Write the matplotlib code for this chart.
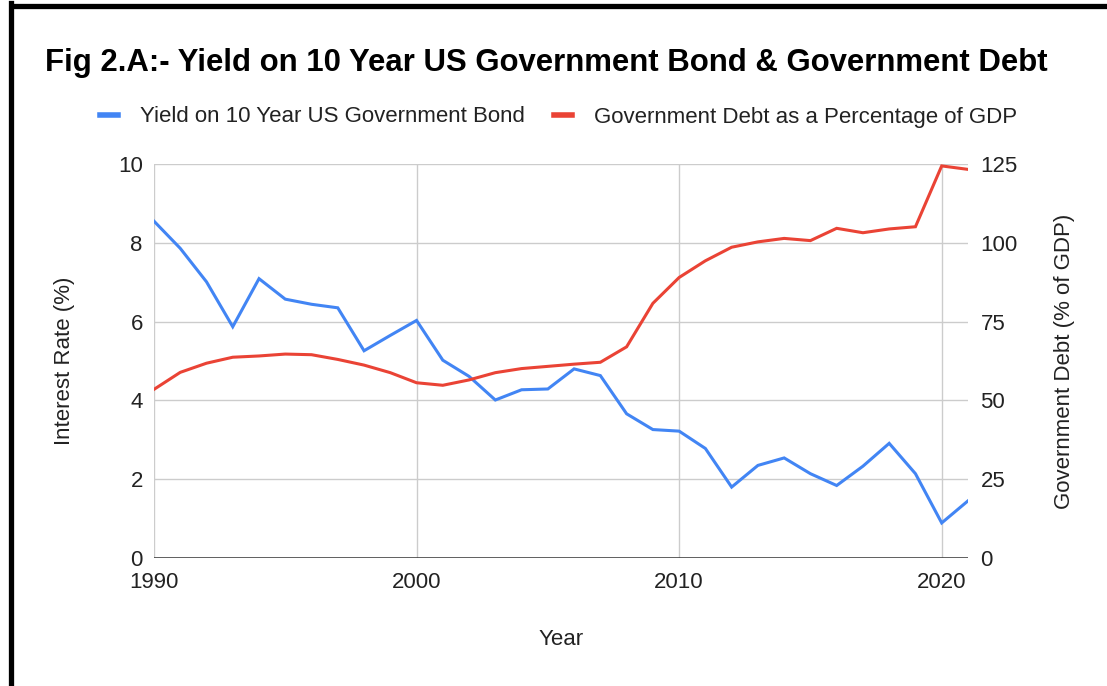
import matplotlib.pyplot as plt
from matplotlib.lines import Line2D

plt.rcParams['font.family'] = ['Liberation Sans', 'DejaVu Sans']

years = list(range(1990, 2022))

# 10 year treasury yield (%)
bond_yield = [8.55, 7.86, 7.01, 5.87, 7.09, 6.57, 6.44, 6.35, 5.26, 5.65,
              6.03, 5.02, 4.61, 4.01, 4.27, 4.29, 4.80, 4.63, 3.66, 3.26,
              3.22, 2.78, 1.80, 2.35, 2.54, 2.14, 1.84, 2.33, 2.91, 2.14,
              0.89, 1.45]

# federal debt as % of GDP
debt_gdp = [53.5, 58.9, 61.8, 63.7, 64.1, 64.7, 64.5, 63.0, 61.2, 58.8,
            55.6, 54.8, 56.5, 58.8, 60.1, 60.8, 61.5, 62.1, 67.0, 80.8,
            89.0, 94.3, 98.6, 100.3, 101.4, 100.7, 104.6, 103.2, 104.4, 105.1,
            124.4, 123.3]

blue = '#4285F4'
red = '#EA4335'
grid_col = '#cccccc'
txt = '#222222'

fig = plt.figure(figsize=(11.07, 6.86), dpi=100)
ax = fig.add_axes([0.1391, 0.1866, 0.7353, 0.5743])
ax2 = ax.twinx()

ax.plot(years, bond_yield, color=blue, lw=2.2, solid_joinstyle='miter', zorder=3)
ax2.plot(years, debt_gdp, color=red, lw=2.2, solid_joinstyle='miter', zorder=3)

ax.set_xlim(1990, 2021)
ax.set_ylim(0, 10)
ax2.set_ylim(0, 125)
ax.set_xticks([1990, 2000, 2010, 2020])
ax.set_yticks([0, 2, 4, 6, 8, 10])
ax2.set_yticks([0, 25, 50, 75, 100, 125])

ax.grid(True, color=grid_col, lw=1)
ax.set_axisbelow(True)
for a in (ax, ax2):
    for s in a.spines.values():
        s.set_visible(False)
    a.tick_params(length=0, labelsize=16, colors=txt)
ax.tick_params(axis='y', pad=8)
ax.tick_params(axis='x', pad=10)
ax2.tick_params(axis='y', pad=9)
ax.axhline(0, color='#333333', lw=1.8, zorder=4)

ax.set_xlabel('Year', fontsize=16, color=txt, labelpad=26)
ax.set_ylabel('Interest Rate (%)', fontsize=16, color=txt, labelpad=31)
ax2.set_ylabel('Government Debt (% of GDP)', fontsize=16, color=txt, labelpad=26)

fig.text(45 / 1107, 1 - 63 / 686, 'Fig 2.A:- Yield on 10 Year US Government Bond & Government Debt',
         fontsize=22.4, fontweight='bold', color='black', va='center', ha='left')

handles = [Line2D([], [], color=blue, lw=4),
           Line2D([], [], color=red, lw=4)]
fig.legend(handles, ['Yield on 10 Year US Government Bond', 'Government Debt as a Percentage of GDP'],
           loc='center', bbox_to_anchor=(558.5 / 1107, 1 - 117 / 686), ncol=2, frameon=False,
           fontsize=16, handlelength=0.8, handletextpad=1.0, columnspacing=1.3,
           labelcolor=txt)

# black frame along the left and top edges
fig.add_artist(Line2D([10.5 / 1107, 10.5 / 1107], [0, 1 - 3 / 686], color='black', lw=3.8,
                      transform=fig.transFigure, solid_capstyle='projecting'))
fig.add_artist(Line2D([8.5 / 1107, 1], [1 - 5.5 / 686, 1 - 5.5 / 686], color='black', lw=3.8,
                      transform=fig.transFigure, solid_capstyle='butt'))

fig.savefig('out.png', dpi=100)
